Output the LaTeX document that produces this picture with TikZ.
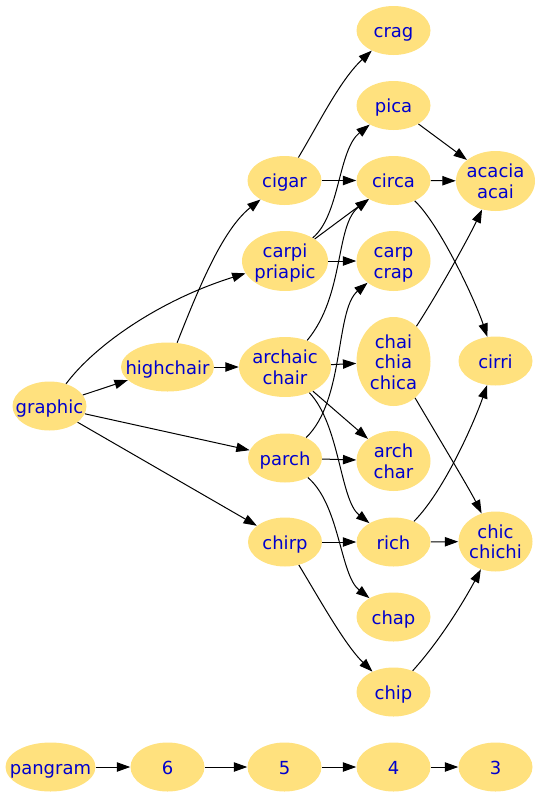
\documentclass[tikz,border=0pt]{standalone}
\usepackage{fontspec}
\setmainfont{DejaVu Sans}
\usetikzlibrary{shapes.geometric,arrows.meta}
\definecolor{nodefill}{HTML}{FFE17E}
\definecolor{nodetext}{HTML}{0000CD}
\newcommand\lb[1]{\makebox[0pt]{\raisebox{-2.25pt}[\height][\depth]{\begin{tabular}{@{}c@{}}#1\end{tabular}}}}
\begin{document}
\begin{tikzpicture}[x=0.75pt,y=-0.75pt,
 nd/.style={ellipse, fill=nodefill, draw=none, inner sep=0pt, text=nodetext,
   font=\fontsize{13.5}{15.4}\selectfont, minimum width=55.5pt, minimum height=36.75pt},
 two/.style={minimum height=45pt},
 three/.style={minimum height=66.75pt},
 edge/.style={draw=black, line width=0.75pt, -{Triangle[length=10pt,width=7pt]}}]
\useasboundingbox (0,0) rectangle (541,797);

% column 1
\node[nd] (graphic) at (49.5,406) {\lb{graphic}};
\node[nd, minimum width=67.5pt] (pangram) at (50.5,767) {\lb{pangram}};
% column 2
\node[nd, minimum width=69.75pt] (highchair) at (167.5,367) {\lb{highchair}};
\node[nd] (n6) at (167.5,767) {\lb{6}};
% column 3
\node[nd] (cigar) at (284.5,180.5) {\lb{cigar}};
\node[nd, two, minimum width=64.5pt] (carpi) at (285,261) {\lb{carpi\\priapic}};
\node[nd, two, minimum width=69pt] (archaic) at (285,367) {\lb{archaic\\chair}};
\node[nd] (parch) at (285,458) {\lb{parch}};
\node[nd] (chirp) at (285,542) {\lb{chirp}};
\node[nd] (n5) at (284.5,767) {\lb{5}};
% column 4
\node[nd] (crag) at (393.5,30.5) {\lb{crag}};
\node[nd] (pica) at (393.5,105.5) {\lb{pica}};
\node[nd] (circa) at (393.5,180.5) {\lb{circa}};
\node[nd, two] (carp) at (393.5,261) {\lb{carp\\crap}};
\node[nd, three] (chai) at (393.5,361.5) {\lb{chai\\chia\\chica}};
\node[nd, two] (archchar) at (393.5,461) {\lb{arch\\char}};
\node[nd] (rich) at (393.5,542) {\lb{rich}};
\node[nd] (chap) at (393.5,617) {\lb{chap}};
\node[nd] (chip) at (393.5,692) {\lb{chip}};
\node[nd] (n4) at (393.5,767) {\lb{4}};
% column 5
\node[nd, two, minimum width=59.25pt] (acacia) at (495.5,181) {\lb{acacia\\acai}};
\node[nd] (cirri) at (495.5,361) {\lb{cirri}};
\node[nd, two] (chic) at (495.5,541.5) {\lb{chic\\chichi}};
\node[nd] (n3) at (495.5,767) {\lb{3}};

% edges
\draw[edge] (graphic) -- (highchair);
\draw[edge] (graphic) .. controls (95,345) and (160,300) .. (carpi);
\draw[edge] (graphic) -- (parch);
\draw[edge] (graphic) -- (chirp);
\draw[edge] (highchair) .. controls (198,290) and (222,230) .. (cigar);
\draw[edge] (highchair) -- (archaic);
\draw[edge] (cigar) .. controls (318,125) and (340,80) .. (crag);
\draw[edge] (cigar) -- (circa);
\draw[edge] (carpi) .. controls (340,215) and (338,150) .. (pica);
\draw[edge] (carpi) -- (circa);
\draw[edge] (carpi) -- (carp);
\draw[edge] (archaic) .. controls (345,295) and (335,225) .. (circa);
\draw[edge] (archaic) -- (chai);
\draw[edge] (archaic) -- (archchar);
\draw[edge] (archaic) .. controls (340,425) and (340,500) .. (rich);
\draw[edge] (parch) .. controls (345,400) and (335,310) .. (carp);
\draw[edge] (parch) -- (archchar);
\draw[edge] (parch) .. controls (340,505) and (340,575) .. (chap);
\draw[edge] (chirp) -- (rich);
\draw[edge] (chirp) .. controls (320,600) and (345,645) .. (chip);
\draw[edge] (pica) -- (acacia);
\draw[edge] (circa) -- (acacia);
\draw[edge] (circa) .. controls (440,225) and (475,300) .. (cirri);
\draw[edge] (chai) .. controls (440,290) and (470,235) .. (acacia);
\draw[edge] (chai) .. controls (440,440) and (470,490) .. (chic);
\draw[edge] (rich) .. controls (445,490) and (475,420) .. (cirri);
\draw[edge] (rich) -- (chic);
\draw[edge] (chip) .. controls (445,635) and (470,590) .. (chic);
\draw[edge] (pangram) -- (n6);
\draw[edge] (n6) -- (n5);
\draw[edge] (n5) -- (n4);
\draw[edge] (n4) -- (n3);
\end{tikzpicture}
\end{document}
